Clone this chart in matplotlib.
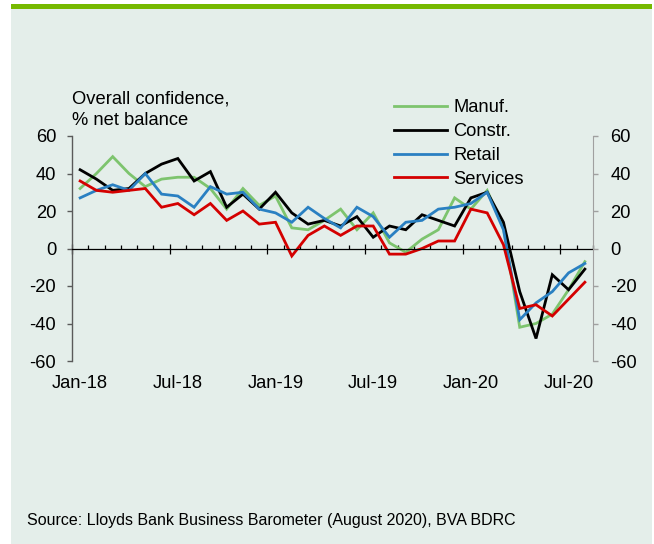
import matplotlib.pyplot as plt
from matplotlib.patches import Rectangle
import numpy as np

plt.rcParams['font.family'] = ['Liberation Sans', 'DejaVu Sans']
plt.rcParams['axes.unicode_minus'] = False

# Monthly net balances, Jan-18 to Aug-20
manuf = [32, 40, 49, 40, 33, 37, 38, 38, 32, 21, 32, 23,
         28, 11, 10, 15, 21, 10, 19, 3, -2, 5, 10, 27,
         21, 31, 11, -42, -40, -35, -22, -7]
constr = [42, 37, 31, 32, 40, 45, 48, 36, 41, 22, 29, 21,
          30, 19, 13, 15, 12, 17, 6, 12, 10, 18, 15, 12,
          27, 30, 14, -23, -48, -14, -22, -11]
retail = [27, 31, 34, 31, 40, 29, 28, 22, 33, 29, 30, 21,
          19, 14, 22, 16, 11, 22, 17, 6, 14, 15, 21, 22,
          24, 30, 10, -38, -29, -23, -13, -8]
services = [36, 31, 30, 31, 32, 22, 24, 18, 24, 15, 20, 13,
            14, -4, 7, 12, 7, 12, 12, -3, -3, 0, 4, 4,
            21, 19, 2, -32, -30, -36, -27, -18]

tick_labels = ['Jan-18', 'Jul-18', 'Jan-19', 'Jul-19', 'Jan-20', 'Jul-20']
tick_months = [0, 6, 12, 18, 24, 30]

series = [('Manuf.', manuf, '#7dc46e'),
          ('Constr.', constr, '#000000'),
          ('Retail', retail, '#2a80c2'),
          ('Services', services, '#d40000')]

W, H = 654, 544
fig = plt.figure(figsize=(W / 100, H / 100), dpi=100)
fig.patch.set_facecolor('white')

# panel background and green top rule
fig.add_artist(Rectangle((11 / W, 0), 641 / W, 535 / H, transform=fig.transFigure,
                         facecolor='#e4eeea', edgecolor='none', zorder=-10))
fig.add_artist(Rectangle((11 / W, 535 / H), 641 / W, 5 / H, transform=fig.transFigure,
                         facecolor='#76b900', edgecolor='none', zorder=-10))

ax = fig.add_axes([72 / W, 1 - 361 / H, 521 / W, 225 / H])
ax.set_facecolor('none')

x = np.arange(len(manuf))
for name, vals, col in series:
    ax.plot(x, vals, color=col, lw=2.0, label=name, solid_joinstyle='miter')

ax.set_xlim(-0.5, len(manuf) - 0.5)
ax.set_ylim(-60, 60)

ax.spines['top'].set_visible(False)
ax.spines['right'].set_visible(False)
ax.spines['bottom'].set_position(('data', 0))
ax.spines['bottom'].set_color('black')
ax.spines['bottom'].set_linewidth(0.9)
ax.spines['left'].set_color('#5a5a5a')
ax.spines['left'].set_linewidth(1.0)

ax.set_xticks(np.arange(-0.5, len(manuf), 6))
ax.set_xticks(np.arange(-0.5, len(manuf), 1), minor=True)
ax.tick_params(axis='x', which='major', direction='inout', length=7,
               width=0.9, color='black', labelbottom=False)
ax.tick_params(axis='x', which='minor', direction='in', length=3.2,
               width=0.9, color='black')

ax.set_yticks(range(-60, 61, 20))
ax.tick_params(axis='y', direction='out', length=3.5, width=1.0,
               color='#5a5a5a', pad=8, labelsize=13.2)

ax2 = ax.twinx()
ax2.set_ylim(-60, 60)
ax2.set_yticks(range(-60, 61, 20))
for s in ['top', 'bottom', 'left']:
    ax2.spines[s].set_visible(False)
ax2.spines['right'].set_color('#a0a0a0')
ax2.tick_params(axis='y', direction='out', length=3.5, width=1.0,
                color='#a0a0a0', pad=9, labelsize=13.2)

# month labels under the plot area
for m, lab in zip(tick_months, tick_labels):
    ax.annotate(lab, xy=(m, -60), xytext=(0, -19.5), textcoords='offset points',
                ha='center', va='baseline', fontsize=13.2)

fig.text(72.5 / W, 1 - 104 / H, 'Overall confidence,', fontsize=13.2, va='baseline')
fig.text(72.5 / W, 1 - 125 / H, '% net balance', fontsize=13.2, va='baseline')

ax.legend(loc='upper left', bbox_to_anchor=(394 / W, 1 - 99 / H),
          bbox_transform=fig.transFigure, frameon=False, borderpad=0,
          borderaxespad=0, handlelength=2.9, handletextpad=0.35,
          labelspacing=0.38, fontsize=13.2)

fig.text(27 / W, 1 - 525 / H,
         'Source: Lloyds Bank Business Barometer (August 2020), BVA BDRC',
         fontsize=11.5, va='baseline')

fig.savefig('out.png', dpi=100, facecolor=fig.get_facecolor())
